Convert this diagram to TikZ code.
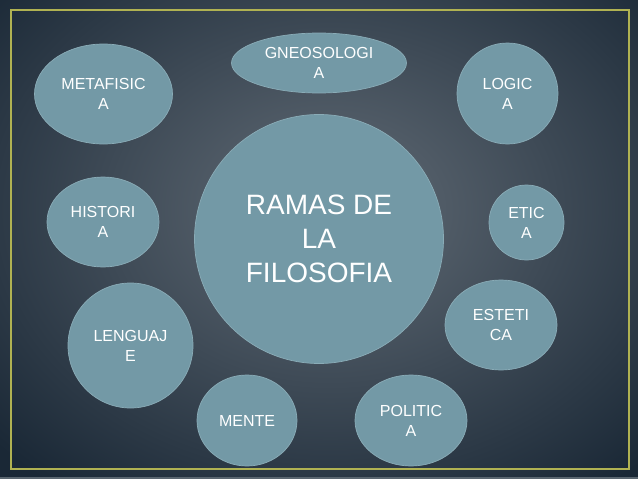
\documentclass[tikz,border=0pt]{standalone}
\usepackage{fontspec}
\setmainfont{Liberation Sans}
\definecolor{bgin}{RGB}{98,108,118}
\definecolor{bgout}{RGB}{26,40,54}
\definecolor{bubble}{RGB}{115,153,166}
\definecolor{bubbleedge}{RGB}{138,172,183}
\definecolor{frameline}{RGB}{176,178,82}
\definecolor{strip}{RGB}{90,102,112}
\tikzset{
  bubblenode/.style={ellipse, fill=bubble, draw=bubbleedge, line width=0.7pt,
    text=white, align=center, inner sep=0pt, font=\fontsize{16}{20}\selectfont},
  bignode/.style={bubblenode, font=\fontsize{28}{34}\selectfont}
}
\usetikzlibrary{shapes.geometric}
\begin{document}
\begin{tikzpicture}[x=1pt,y=-1pt]
\useasboundingbox (0,0) rectangle (638,479);
\shade[inner color=bgin, outer color=bgout] (-120,-140) rectangle (780,560);
\fill[strip] (0,477) rectangle (638,479);
\draw[frameline, line width=2pt] (10.5,9.5) rectangle (629,469);
% bubbles
\node[bignode, minimum width=249, minimum height=249] (c) at (319,239) {RAMAS DE\\LA\\FILOSOFIA};
\node[bubblenode, minimum width=175, minimum height=60] (gn) at (319,63) {GNEOSOLOGI\\A};
\node[bubblenode, minimum width=138, minimum height=100] (me) at (103.5,94) {METAFISIC\\A};
\node[bubblenode, minimum width=101, minimum height=101] (lo) at (507.5,93.5) {LOGIC\\A};
\node[bubblenode, minimum width=112, minimum height=90] (hi) at (103,222) {HISTORI\\A};
\node[bubblenode, minimum width=75, minimum height=75] (et) at (526.5,222.5) {ETIC\\A};
\node[bubblenode, minimum width=125, minimum height=125] (le) at (130.5,345.5) {LENGUAJ\\E};
\node[bubblenode, minimum width=112, minimum height=90] (es) at (501,325) {ESTETI\\CA};
\node[bubblenode, minimum width=100, minimum height=91] (mn) at (247,420.5) {MENTE};
\node[bubblenode, minimum width=112, minimum height=91] (po) at (411,420.5) {POLITIC\\A};
\end{tikzpicture}
\end{document}
